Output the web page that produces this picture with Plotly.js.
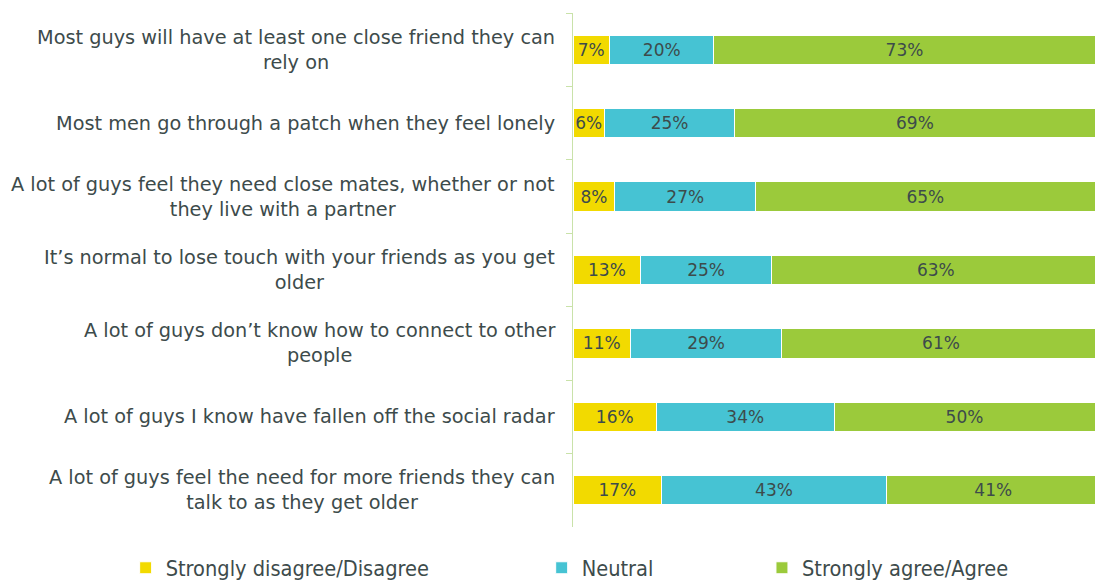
<!DOCTYPE html>
<html><head><meta charset="utf-8">
<script src="https://cdn.plot.ly/plotly-3.0.1.min.js"></script>
<style>html,body{margin:0;padding:0;background:#fff}#chart{width:1095px;height:581px}</style>
</head><body><div id="chart"></div>
<script>
const categories = [
  "Most guys will have at least one close friend they can<br>rely on",
  "Most men go through a patch when they feel lonely",
  "A lot of guys feel they need close mates, whether or not<br>they live with a partner",
  "It\u2019s normal to lose touch with your friends as you get<br>older",
  "A lot of guys don\u2019t know how to connect to other<br>people",
  "A lot of guys I know have fallen off the social radar",
  "A lot of guys feel the need for more friends they can<br>talk to as they get older"
];
const disagree = [7, 6, 8, 13, 11, 16, 17];
const neutral  = [20, 25, 27, 25, 29, 34, 43];
const agree    = [73, 69, 65, 63, 61, 50, 41];
const seriesNames = ["Strongly disagree/Disagree", "Neutral", "Strongly agree/Agree"];
const colors = ["#f2da00", "#46c3d3", "#9bca3b"];

const txtColor = "#3d4b4b";
const allVals = [disagree, neutral, agree];
const legendIds = ["legend", "legend2", "legend3"];
const traces = allVals.map((vals, i) => ({
  type: "bar", orientation: "h", name: seriesNames[i],
  y: categories, x: vals,
  text: vals.map(v => v + "%"), textposition: "inside", insidetextanchor: "middle",
  textfont: {color: txtColor, size: 17, family: "DejaVu Sans"},
  constraintext: "none",
  marker: {color: colors[i], line: {color: "#ffffff", width: 1}},
  hoverinfo: "skip", legend: legendIds[i]
}));

const legFont = {family: "DejaVu Sans Condensed, DejaVu Sans", size: 21.6, color: txtColor};
const mkLeg = (x) => ({orientation: "h", x: x, xref: "paper", y: 0.022, yref: "container",
  xanchor: "left", yanchor: "middle", font: legFont, bgcolor: "rgba(0,0,0,0)", itemwidth: 30});

const annotations = categories.map(c => ({
  x: 0, xref: "paper", xshift: -16, xanchor: "right", y: c, yref: "y", yanchor: "middle",
  text: c, align: "center", showarrow: false,
  font: {family: "DejaVu Sans", size: 19.3, color: txtColor}
}));

const layout = {
  width: 1095, height: 581,
  margin: {l: 573, r: 0, t: 13, b: 54},
  barmode: "stack", bargap: 0.6,
  paper_bgcolor: "#ffffff", plot_bgcolor: "#ffffff",
  font: {family: "DejaVu Sans", color: txtColor},
  xaxis: {range: [0, 100], visible: false, fixedrange: true},
  yaxis: {autorange: "reversed", showline: true, linecolor: "#c9e2a9", linewidth: 1,
    ticks: "outside", tickson: "boundaries", ticklen: 6, tickcolor: "#c9e2a9",
    showticklabels: false, showgrid: false, zeroline: false, automargin: false},
  legend: mkLeg(-0.857),
  legend2: mkLeg(-0.060),
  legend3: mkLeg(0.362),
  annotations: annotations,
  showlegend: true
};
Plotly.newPlot("chart", traces, layout, {displayModeBar: false, staticPlot: true});
</script></body></html>
